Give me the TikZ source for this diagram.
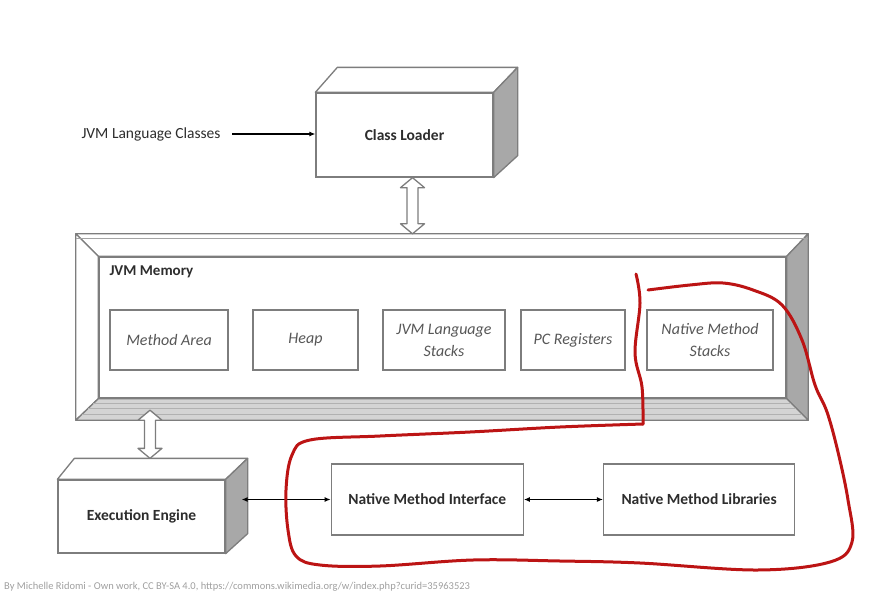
\documentclass[tikz,border=0pt]{standalone}
\usepackage{fontspec}
\setmainfont{Carlito}
\usetikzlibrary{positioning,arrows.meta,calc}
\definecolor{edge}{RGB}{125,125,125}
\definecolor{side}{RGB}{168,168,168}
\definecolor{bevel}{RGB}{212,212,212}
\definecolor{ink}{RGB}{45,45,45}
\definecolor{pen}{RGB}{188,20,20}
\tikzstyle{block} = [rectangle, draw=edge, line width=1.3pt, fill=white, text=ink, text centered, font=\bfseries\fontsize{15.5}{18}\selectfont]
\tikzstyle{area} = [rectangle, draw=edge, line width=1.3pt, fill=white, text=ink!80, align=center, font=\itshape\fontsize{16}{22}\selectfont, minimum height=60pt, inner sep=2pt]
\tikzstyle{face} = [draw=edge, line width=1.3pt, line join=round]
\tikzstyle{link} = [draw, line width=1.1pt, {Latex[length=6pt,width=5pt]}-{Latex[length=6pt,width=5pt]}]
\tikzstyle{pencil} = [draw=pen, line width=3pt, line cap=round, line join=round]
% hollow two-way arrow from #1 (top) to #2 (bottom)
\newcommand{\twoway}[2]{%
  \draw[face, fill=white] (#1) -- ($(#1)+(-12,10)$) -- ($(#1)+(-5.5,10)$) -- ($(#2)+(-5.5,-10)$)
    -- ($(#2)+(-12,-10)$) -- (#2) -- ($(#2)+(12,-10)$) -- ($(#2)+(5.5,-10)$)
    -- ($(#1)+(5.5,10)$) -- ($(#1)+(12,10)$) -- cycle;}

\begin{document}
\begin{tikzpicture}[x=1pt, y=-1pt]
\useasboundingbox (0,0) rectangle (874,594);

% class loader ===========================
\node[block, minimum width=177pt, minimum height=84pt] (loader) at (404.5,135) {Class Loader};
\filldraw[face, fill=white] (loader.north west) -- ($(loader.north west)+(22,-25)$) -- ($(loader.north east)+(24,-25)$) -- (loader.north east) -- cycle;
\filldraw[face, fill=side] (loader.north east) -- ($(loader.north east)+(24,-25)$) -- ($(loader.south east)+(24,-22)$) -- (loader.south east) -- cycle;

\node[text=ink, font=\fontsize{15.5}{18}\selectfont] (classes) at (151,134) {JVM Language Classes};
\draw[line width=1.1pt, -{Latex[length=6pt,width=5pt]}] ([xshift=8pt]classes.east) -- (classes.east -| loader.west);

% memory =================================
\node[minimum width=732pt, minimum height=186pt, inner sep=0pt] (mem) at (442,327) {};
\node[rectangle, draw=edge, line width=1.3pt, fill=white, minimum width=687pt, minimum height=141pt, inner sep=0pt] (memin) at (442.5,327.5) {};
\filldraw[face, fill=white] (mem.north west) -- (mem.north east) -- (memin.north east) -- (memin.north west) -- cycle;
\filldraw[face, fill=white] (mem.north west) -- (memin.north west) -- (memin.south west) -- (mem.south west) -- cycle;
\filldraw[face, fill=side] (mem.north east) -- (memin.north east) -- (memin.south east) -- (mem.south east) -- cycle;
\filldraw[face, fill=bevel] (mem.south west) -- (memin.south west) -- (memin.south east) -- (mem.south east) -- cycle;
\draw[edge!70, line width=0.6pt] ([yshift=-4pt]mem.north west) -- ([yshift=-4pt]mem.north east);
\foreach \d in {6,12,17}
  \draw[edge!60, line width=0.6pt] ([xshift=\d pt, yshift=\d pt]mem.south west) -- ([xshift=-\d pt, yshift=\d pt]mem.south east);

\node[anchor=west, text=ink, font=\bfseries\fontsize{15}{18}\selectfont] (memlabel) at (106,272) {JVM Memory};

\node[area, minimum width=118pt] (method) at (169,340) {Method Area};
\node[area, minimum width=105pt, right=23.7pt of method] (heap) {Heap};
\node[area, minimum width=122pt, right=23.7pt of heap] (stacks) {JVM Language\\Stacks};
\node[area, minimum width=104pt, right=14.7pt of stacks] (pc) {PC Registers};
\node[area, minimum width=126pt, right=20.7pt of pc] (native) {Native Method\\Stacks};

% execution engine =======================
\node[block, minimum width=167pt, minimum height=73pt] (engine) at (141.5,516.5) {Execution Engine};
\filldraw[face, fill=white] (engine.north west) -- ($(engine.north west)+(17,-21)$) -- ($(engine.north east)+(22,-21)$) -- (engine.north east) -- cycle;
\filldraw[face, fill=side] (engine.north east) -- ($(engine.north east)+(22,-21)$) -- ($(engine.south east)+(22,-20)$) -- (engine.south east) -- cycle;

% native =================================
\node[block, minimum width=192pt, minimum height=71pt, right=105pt of engine.east, anchor=west, yshift=17pt] (nmi) {Native Method Interface};
\node[block, minimum width=191pt, minimum height=71pt, right=79pt of nmi] (nml) {Native Method Libraries};

% edges
\coordinate (a1) at ([xshift=8pt]loader.south);
\coordinate (a2) at (a1 |- mem.north);
\twoway{a1}{a2}
\coordinate (a4) at ([xshift=8.5pt, yshift=21pt]engine.north);
\coordinate (a3) at ([yshift=10pt]a4 |- mem.south);
\twoway{a3}{a4}

\coordinate (engside) at ([xshift=16pt]engine.east);
\path[link] (engside |- nmi.west) -- (nmi.west);
\path[link] (nmi.east) -- (nml.west);

% red loop
\draw[pencil] plot[smooth, tension=0.6] coordinates {(636,274) (640,303) (635,353) (642,387) (643,424)};
\draw[pencil] plot[smooth, tension=0.6] coordinates {(643,424) (560,427) (470,432) (380,436) (310,440) (292,455) (286,490) (288,530) (296,556) (320,565) (380,566) (473,560) (560,561) (640,563) (757,570) (830,562) (852,542) (848,500) (838,452) (827,412) (815,385) (802,340) (782,305) (753,290) (723,283) (690,285) (648,290)};

% credit
\node[anchor=west, text=gray!75, font=\fontsize{10.5}{12}\selectfont, inner sep=0pt] (credit) at (4,587) {By Michelle Ridomi - Own work, CC BY-SA 4.0, https://commons.wikimedia.org/w/index.php?curid=35963523};

\end{tikzpicture}
\end{document}
